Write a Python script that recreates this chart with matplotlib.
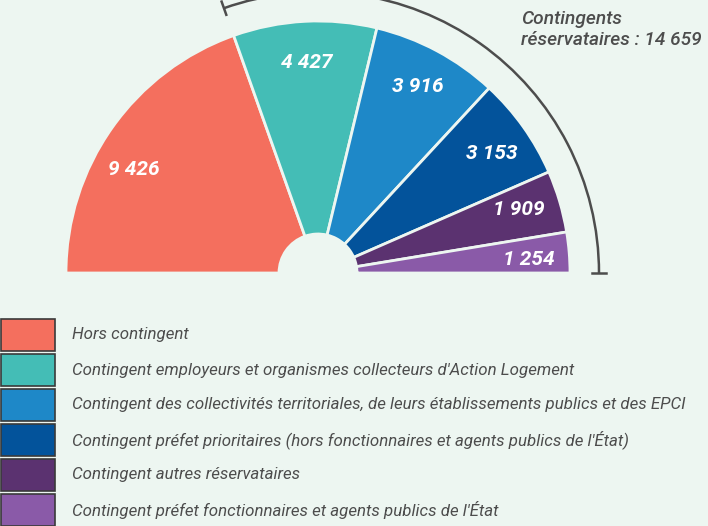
import numpy as np
import matplotlib.pyplot as plt
from matplotlib.patches import Arc, Rectangle

plt.rcParams['font.family'] = ['Roboto', 'DejaVu Sans']

categories = ['Hors contingent',
              "Contingent employeurs et organismes collecteurs d'Action Logement",
              'Contingent des collectivités territoriales, de leurs établissements publics et des EPCI',
              "Contingent préfet prioritaires (hors fonctionnaires et agents publics de l'État)",
              'Contingent autres réservataires',
              "Contingent préfet fonctionnaires et agents publics de l'État"]
values = [9426, 4427, 3916, 3153, 1909, 1254]
colors = ['#f46f5e', '#44bdb6', '#1e88c8', '#03539b', '#5b3270', '#8a5aa8']
reserv_total = sum(values[1:])

bg = '#edf6f1'
grey = '#4d4d4d'

fig = plt.figure(figsize=(7.08, 5.26), dpi=100, facecolor=bg)
ax = fig.add_axes([0, 0, 1, 1])
ax.set_facecolor(bg)

cx, cy = 318, 253
R, r_hole = 252, 39

wedges, _ = ax.pie(values + [sum(values)], colors=colors + ['none'], radius=R,
                   center=(cx, cy), startangle=180, counterclock=False,
                   wedgeprops=dict(width=R - r_hole, edgecolor=bg, linewidth=2))
wedges[-1].set_visible(False)

def fmt(v):
    return f'{v:,}'.replace(',', ' ')

nudge = [6, 0, 0, -1, 1, -1]
for w, v, n in zip(wedges[:-1], values, nudge):
    a = np.deg2rad((w.theta1 + w.theta2) / 2 + n)
    ax.text(cx + 211 * np.cos(a), cy + 211 * np.sin(a), fmt(v), color='white',
            fontsize=15, fontweight='bold', fontstyle='italic', ha='center', va='center')

# accolade autour des contingents réservataires
a_start = wedges[1].theta2
ax.add_patch(Arc((cx, cy), 2 * 281, 2 * 281, theta1=0, theta2=a_start, color=grey, lw=1.8))
for ang in [0, a_start]:
    t = np.deg2rad(ang)
    ax.plot([cx + 274 * np.cos(t), cx + 288 * np.cos(t)],
            [cy + 274 * np.sin(t), cy + 288 * np.sin(t)], color=grey, lw=1.8)

ax.text(521, 516, 'Contingents\nréservataires : ' + fmt(reserv_total), color=grey,
        fontsize=13.8, fontweight='medium', fontstyle='italic', ha='left', va='top',
        linespacing=1.2)

# légende
row_top = 526 - 319
for i, (c, lab) in enumerate(zip(colors, categories)):
    top = row_top - 35 * i
    ax.add_patch(Rectangle((1, top - 32), 54, 32, facecolor=c, edgecolor='#3a3a3a', lw=1.2))
    ax.text(72, top - 16, lab, color=grey, fontsize=12.2, fontstyle='italic',
            ha='left', va='center')

ax.set_xlim(0, 708)
ax.set_ylim(0, 526)
ax.set_aspect('equal')
ax.axis('off')

fig.savefig('out.png', dpi=100, facecolor=bg)
